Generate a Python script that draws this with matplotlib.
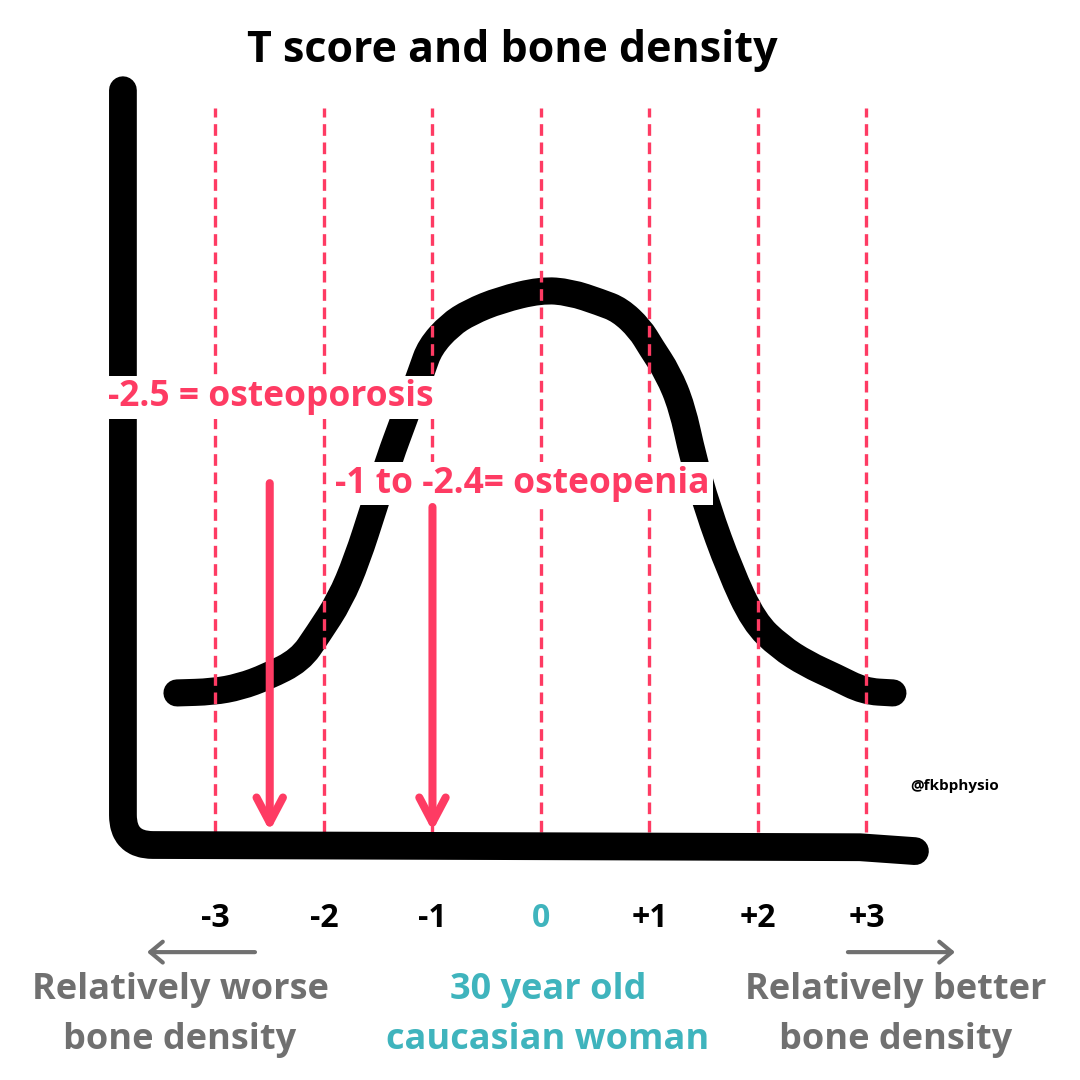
import matplotlib

matplotlib.use("Agg")

import matplotlib.pyplot as plt
from matplotlib.patches import FancyArrowPatch, PathPatch
from matplotlib.path import Path

plt.rcParams["font.family"] = ["Open Sans", "DejaVu Sans"]

PINK = "#fe3b63"
TEAL = "#3fb4bd"
GREY = "#707070"

# T score positions and their labels
t_scores = [-3, -2, -1, 0, 1, 2, 3]
tick_labels = ["-3", "-2", "-1", "0", "+1", "+2", "+3"]
tick_colors = ["black", "black", "black", TEAL, "black", "black", "black"]

# bell curve (T score, relative height above baseline)
curve_t = [-3.355, -3.023, -2.774, -2.525, -2.221, -2.055, -1.853, -1.696, -1.539,
           -1.392, -1.272, -1.097, -1.023, -0.839, -0.654, -0.378, 0.0, 0.267, 0.544,
           0.728, 0.912, 1.014, 1.171, 1.300, 1.401, 1.530, 1.742, 1.963, 2.203,
           2.452, 2.710, 2.977, 3.244]
curve_height = [0.274, 0.276, 0.285, 0.303, 0.333, 0.380, 0.441, 0.514, 0.609,
                0.699, 0.762, 0.856, 0.897, 0.937, 0.960, 0.982, 1.0, 0.996, 0.978,
                0.964, 0.930, 0.897, 0.850, 0.789, 0.699, 0.609, 0.495, 0.402, 0.357,
                0.326, 0.303, 0.277, 0.274]

osteoporosis_t = -2.5
osteopenia_t = -1.0


def smooth_path(xs, ys):
    """Quadratic spline path using the points as control points (smooth rendering)."""
    pts = list(zip(xs, ys))
    verts = [pts[0]]
    codes = [Path.MOVETO]
    mid = lambda a, b: ((a[0] + b[0]) / 2, (a[1] + b[1]) / 2)
    verts.append(mid(pts[0], pts[1]))
    codes.append(Path.LINETO)
    for i in range(1, len(pts) - 1):
        verts += [pts[i], mid(pts[i], pts[i + 1])]
        codes += [Path.CURVE3, Path.CURVE3]
    verts.append(pts[-1])
    codes.append(Path.LINETO)
    return Path(verts, codes)


fig = plt.figure(figsize=(10.8, 10.8), dpi=100)
ax = fig.add_axes([0, 0, 1, 1])
ax.set_xlim(-4.986, 4.968)
ax.set_ylim(-0.4234, 1.5225)
ax.axis("off")

# curve
ax.add_patch(PathPatch(smooth_path(curve_t, curve_height), facecolor="none",
                       edgecolor="black", linewidth=19.5, capstyle="round",
                       joinstyle="round", zorder=2))

# dashed T score guides
ax.vlines(t_scores, 0.023, 1.328, colors=PINK, linewidth=2.4,
          linestyles=(0, (3.5, 2.0)), zorder=3)

# L-shaped axis with a rounded corner
frame = Path(
    [(-3.853, 1.360), (-3.853, 0.054), (-3.853, 0.0), (-3.576, 0.0),
     (2.94, -0.004), (3.447, -0.011)],
    [Path.MOVETO, Path.LINETO, Path.CURVE3, Path.CURVE3, Path.LINETO, Path.LINETO],
)
ax.add_patch(PathPatch(frame, facecolor="none", edgecolor="black", linewidth=20,
                       capstyle="round", joinstyle="round", zorder=4))

# labels with white backing
ax.text(-2.49, 0.807, "-2.5 = osteoporosis", color=PINK, fontsize=25.5,
        fontweight="bold", ha="center", va="center", zorder=5,
        bbox=dict(facecolor="white", edgecolor="none", pad=2.5))
ax.text(-0.17, 0.651, "-1 to -2.4= osteopenia", color=PINK, fontsize=25.5,
        fontweight="bold", ha="center", va="center", zorder=5,
        bbox=dict(facecolor="white", edgecolor="none", pad=2.5))

for t_val, y_top in [(osteoporosis_t, 0.652), (osteopenia_t, 0.609)]:
    arrow = FancyArrowPatch((t_val, y_top), (t_val, 0.025),
                            arrowstyle="->,head_length=1.8,head_width=0.95",
                            mutation_scale=10, color=PINK, linewidth=5.8,
                            capstyle="round", joinstyle="round",
                            shrinkA=0, shrinkB=0, zorder=6)
    ax.add_patch(arrow)

# tick labels under the axis
for t_val, label, col in zip(t_scores, tick_labels, tick_colors):
    ax.text(t_val, -0.132, label, color=col, fontsize=23, fontweight="bold",
            ha="center", va="center")

# direction arrows
for start, end in [(-2.636, -3.631), (2.829, 3.816)]:
    ax.add_patch(FancyArrowPatch((start, -0.193), (end, -0.193),
                                 arrowstyle="->,head_length=0.9,head_width=0.75",
                                 mutation_scale=10, color=GREY, linewidth=3,
                                 capstyle="round", joinstyle="round",
                                 shrinkA=0, shrinkB=0))

bottom_kw = dict(fontsize=26, fontweight="bold", ha="center", va="center",
                 linespacing=1.5)
fig.text(180 / 1080, 1 - 1015 / 1080, "Relatively worse\nbone density", color=GREY,
         **bottom_kw)
fig.text(548 / 1080, 1 - 1015 / 1080, "30 year old\ncaucasian woman", color=TEAL,
         **bottom_kw)
fig.text(896 / 1080, 1 - 1015 / 1080, "Relatively better\nbone density", color=GREY,
         **bottom_kw)

fig.text(955 / 1080, 1 - 786 / 1080, "@fkbphysio", color="black", fontsize=11,
         fontweight="bold", ha="center", va="center")

fig.text(512 / 1080, 1 - 50 / 1080, "T score and bone density", color="black",
         fontsize=31, fontweight="bold", ha="center", va="center")

fig.savefig("out.png", dpi=100, facecolor="white")
